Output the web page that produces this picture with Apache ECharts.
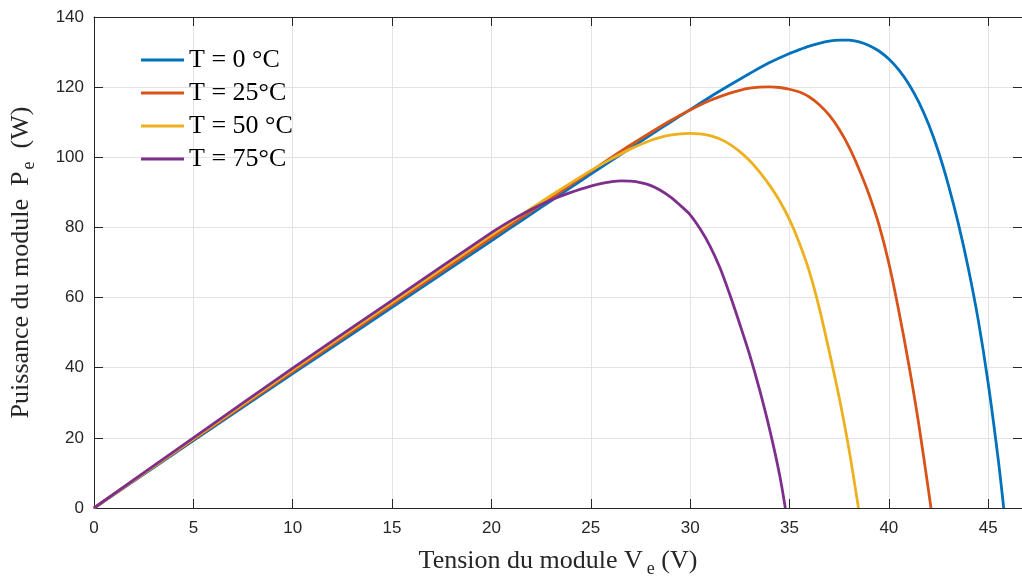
<!DOCTYPE html>
<html>
<head>
<meta charset="utf-8">
<script src="https://cdn.jsdelivr.net/npm/echarts@6/dist/echarts.min.js"></script>
<style>
  html, body { margin: 0; padding: 0; background: #fff; }
  #chart { width: 1022px; height: 583px; }
</style>
</head>
<body>
<div id="chart"></div>
<script>
// P-V characteristics of a PV module at four cell temperatures
const seriesNames = ['T = 0 °C', 'T = 25°C', 'T = 50 °C', 'T = 75°C'];
const seriesColors = ['#0072BD', '#D95319', '#EDB120', '#7E2F8E'];

// Module voltage (V) and power (W) for each temperature
const v0 = [0, 5, 10, 15, 20, 21, 22, 23, 24, 25, 26, 27, 28, 29, 30, 31, 32, 33, 34, 35, 35.5, 36, 36.5, 37, 37.5, 38, 38.5, 39, 39.5, 40, 40.5, 41, 41.5, 42, 42.5, 43, 43.5, 44, 44.5, 45, 45.5, 45.78];
const p0 = [0, 19.2, 38.3, 57.2, 76.2, 80.0, 83.8, 87.6, 91.4, 95.2, 98.9, 102.6, 106.3, 110.0, 113.6, 117.2, 120.6, 123.9, 127.0, 129.6, 130.7, 131.7, 132.5, 133.1, 133.4, 133.4, 132.9, 131.9, 130.3, 128.0, 124.9, 120.9, 115.8, 109.4, 101.5, 92.0, 81.0, 68.3, 53.5, 35.5, 14.0, 0];

const v25 = [0, 5, 10, 15, 20, 21, 22, 23, 24, 25, 26, 27, 28, 29, 30, 31, 32, 32.5, 33, 33.5, 34, 34.5, 35, 35.5, 36, 36.5, 37, 37.5, 38, 38.5, 39, 39.5, 40, 40.5, 41, 41.5, 42, 42.12];
const p25 = [0, 19.5, 38.9, 58.0, 77.0, 80.8, 84.6, 88.4, 92.2, 96.0, 99.8, 103.5, 107.0, 110.4, 113.5, 116.2, 118.3, 119.1, 119.7, 120.0, 120.1, 119.9, 119.4, 118.6, 117.2, 115.0, 112.0, 108.0, 102.9, 96.6, 89.4, 80.8, 69.8, 56.2, 41.0, 24.1, 4.8, 0];

const v50 = [0, 5, 10, 15, 20, 21, 22, 23, 24, 25, 26, 27, 28, 28.5, 29, 29.5, 30, 30.5, 31, 31.5, 32, 32.5, 33, 33.5, 34, 34.5, 35, 35.5, 36, 36.5, 37, 37.5, 38, 38.47];
const p50 = [0, 19.7, 39.4, 58.6, 77.8, 81.6, 85.4, 89.1, 92.7, 96.2, 99.4, 102.4, 104.8, 105.7, 106.3, 106.7, 106.8, 106.7, 106.2, 105.2, 103.7, 101.6, 99.0, 95.8, 92.0, 87.6, 82.2, 75.5, 67.4, 57.0, 44.6, 31.5, 16.5, 0];

const v75 = [0, 5, 10, 15, 20, 21, 22, 23, 24, 25, 25.5, 26, 26.5, 27, 27.5, 28, 28.5, 29, 29.5, 30, 30.5, 31, 31.5, 32, 32.5, 33, 33.5, 34, 34.5, 34.79];
const p75 = [0, 20.0, 39.9, 59.2, 78.5, 82.0, 85.1, 87.8, 90.0, 91.8, 92.5, 93.0, 93.3, 93.2, 92.8, 92.0, 90.6, 88.7, 86.3, 83.6, 79.6, 74.7, 68.5, 60.8, 52.4, 43.6, 33.6, 22.4, 9.5, 0];

// Axis ranges and ticks
const xMin = 0, xMax = 46.7, xStep = 5;
const yMin = 0, yMax = 140, yStep = 20;

const voltages = [v0, v25, v50, v75];
const powers = [p0, p25, p50, p75];

const axisColor = '#262626';
const gridColor = '#e3e3e3';
const serif = '"Liberation Serif", "Times New Roman", serif';
const sans = '"Liberation Sans", Arial, Helvetica, sans-serif';

function makeX(position, showLabels) {
  return {
    type: 'value', position: position, min: xMin, max: xMax, interval: xStep,
    axisLine: { show: true, onZero: false, lineStyle: { color: axisColor, width: 1 } },
    axisTick: { show: true, inside: true, length: 9, lineStyle: { color: axisColor } },
    axisLabel: { show: showLabels, color: axisColor, fontSize: 17, fontFamily: sans, margin: 12, showMaxLabel: false },
    splitLine: { show: showLabels, lineStyle: { color: gridColor, width: 1 } }
  };
}
function makeY(position, showLabels) {
  return {
    type: 'value', position: position, min: yMin, max: yMax, interval: yStep,
    axisLine: { show: true, onZero: false, lineStyle: { color: axisColor, width: 1 } },
    axisTick: { show: true, inside: true, length: 9, lineStyle: { color: axisColor } },
    axisLabel: { show: showLabels, color: axisColor, fontSize: 17, fontFamily: sans, margin: 10 },
    splitLine: { show: showLabels, lineStyle: { color: gridColor, width: 1 } }
  };
}

const xBottom = makeX('bottom', true);
xBottom.name = '{a|Tension du module V}{s|e}{a| (V)}';
xBottom.nameLocation = 'middle';
xBottom.nameGap = 36;
xBottom.nameTextStyle = {
  rich: {
    a: { fontFamily: serif, fontSize: 26, color: axisColor, lineHeight: 30 },
    s: { fontFamily: serif, fontSize: 18, color: axisColor, padding: [16, 0, 0, 4] }
  }
};

const yLeft = makeY('left', true);
yLeft.name = '{a|Puissance du module  P}{s|e}{a|  (W)}';
yLeft.nameLocation = 'middle';
yLeft.nameGap = 56;
yLeft.nameRotate = 90;
yLeft.nameTextStyle = {
  rich: {
    a: { fontFamily: serif, fontSize: 26, color: axisColor, lineHeight: 30 },
    s: { fontFamily: serif, fontSize: 18, color: axisColor, padding: [16, 0, 0, 2] }
  }
};

const chart = echarts.init(document.getElementById('chart'), null, { renderer: 'canvas' });

chart.setOption({
  backgroundColor: '#ffffff',
  animation: false,
  grid: { left: 93, right: 0, top: 17, bottom: 74, containLabel: false },
  xAxis: [xBottom, makeX('top', false)],
  yAxis: [yLeft, makeY('right', false)],
  legend: {
    orient: 'vertical', left: 141, top: 47, padding: 0,
    icon: 'rect', itemWidth: 43, itemHeight: 3, itemGap: 7,
    textStyle: { fontFamily: serif, fontSize: 26, color: '#000', lineHeight: 26 },
    data: seriesNames
  },
  series: seriesNames.map(function (name, i) {
    return {
      name: name, type: 'line', xAxisIndex: 0, yAxisIndex: 0,
      data: voltages[i].map(function (v, k) { return [v, powers[i][k]]; }),
      smooth: 0.3,
      symbol: 'none', showSymbol: false,
      lineStyle: { color: seriesColors[i], width: 2.8 },
      itemStyle: { color: seriesColors[i] },
      z: 3 + i
    };
  })
});
</script>
</body>
</html>
